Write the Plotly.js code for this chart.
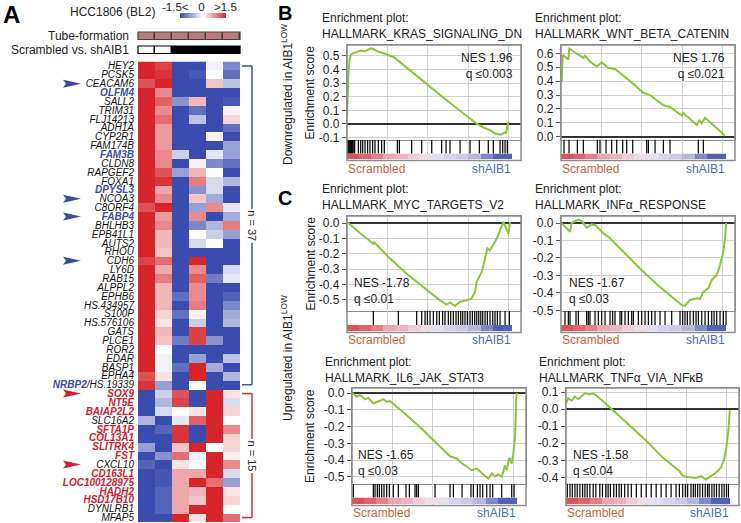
<!DOCTYPE html>
<html><head><meta charset="utf-8">
<script src="https://cdn.plot.ly/plotly-3.0.1.min.js"></script>
<style>html,body{margin:0;padding:0;background:#fff}#chart{width:741px;height:523px}</style>
</head><body><div id="chart"></div>
<script>
// ---------------- DATA ----------------
const samples = ['S1','S2','S3','S4','S5','S6'];
const tubeFormation = [1,1,1,1,1,1];
const condition = [0,0,1,1,1,1]; // 0 = Scrambled, 1 = shAIB1

const genesDown = ['HEY2','PCSK5','CEACAM6','OLFM4','SALL2','TRIM31','FLJ14213','ADH1A','CYP2R1','FAM174B','FAM3B','CLDN8','RAPGEF2','FOXA1','DPYSL3','NCOA3','C8ORF4','FABP4','BHLHB3','EPB41L1','AUTS2','RHOU','CDH6','LY6D','RAB15','ALPPL2','EPHB6','HS.434957','S100P','HS.576106','GATS','PLCE1','ROR2','EDAR','BASP1','EPHA4','NRBP2/HS.19339'];
const genesUp = ['SOX9','NT5E','BAIAP2L2','SLC16A2','SFTA1P','COL13A1','SLITRK4','FST','CXCL10','CD163L1','LOC100128975','HADH2','HSD17B10','DYNLRB1','MFAP5'];
const blueGenes = ['OLFM4','FAM3B','DPYSL3','FABP4','NRBP2'];
const redGenes = ['SOX9','NT5E','BAIAP2L2','SFTA1P','COL13A1','SLITRK4','FST','CD163L1','LOC100128975','HADH2','HSD17B10'];
const arrowBlue = ['CEACAM6','NCOA3','FABP4','CDH6'];
const arrowRed = ['SOX9','CXCL10'];

const exprDown = [
[1.5,1.3,-1.5,-1.5,-0.1,-1.0],[1.5,1.4,-1.5,-1.4,0.0,-1.2],[1.2,1.5,-1.5,-1.5,0.4,-0.5],[1.5,0.8,-1.5,-1.5,-1.5,-1.5],
[1.5,1.1,-0.9,0.5,-1.5,-1.4],[1.5,0.8,-1.5,-1.2,-1.5,0.1],[1.5,1.0,-1.5,-0.5,-1.5,0.3],[1.5,0.7,-1.5,-1.5,-1.5,-1.2],
[1.5,0.7,-1.5,-1.5,0.1,-1.5],[1.5,0.7,-1.5,-1.5,-1.5,-0.8],[1.5,0.8,-0.4,-1.5,-0.2,-0.8],[1.5,0.8,-1.5,0.1,-1.0,-1.2],
[1.5,1.2,-0.8,0.5,0.0,-1.5],[1.5,1.4,-1.5,0.9,-0.3,-0.6],[1.5,0.6,-1.5,-0.9,-0.3,-1.5],[1.5,0.8,-1.5,0.4,-0.7,-1.5],
[1.2,1.5,-1.5,-0.8,0.8,-0.2],[1.5,0.7,-1.5,0.8,-1.5,-0.7],[1.5,0.8,-1.5,-1.0,-0.6,0.9],[1.5,0.5,-1.5,0.0,-0.4,-0.8],
[1.5,0.5,-1.5,-0.3,0.0,-1.5],[1.5,0.4,-1.5,-1.5,-1.5,-1.5],[1.3,1.0,-1.5,1.5,-1.5,-1.5],[1.5,0.6,-1.5,0.8,-1.5,-0.3],
[1.5,0.9,-1.5,1.1,-1.1,-0.2],[1.5,0.5,-1.5,0.8,-1.5,-1.5],[1.5,0.5,-1.2,0.8,-1.5,-1.3],[1.5,0.5,-1.5,0.9,-1.5,-1.0],
[1.5,0.3,-1.2,0.1,-1.5,-0.7],[1.5,0.2,-1.5,-0.4,-1.5,-0.6],[1.5,0.5,-1.5,1.3,-1.5,-1.5],[1.5,0.4,-1.1,1.3,-0.9,-1.5],
[1.5,0.0,-1.5,-1.5,-1.5,-1.5],[1.5,-0.1,-1.5,-0.8,-1.5,-0.5],[1.5,-0.1,-1.2,1.5,-0.7,-1.5],[1.2,0.2,-1.5,1.5,-1.5,-0.6],
[1.4,-0.8,-1.5,0.0,-1.5,-1.5]
];
const exprUp = [
[-1.5,-0.4,1.2,-1.5,1.5,0.2],[-1.5,-0.6,1.3,-1.5,1.5,-0.3],[-1.5,-0.3,0.0,0.2,1.5,0.3],[-0.6,-1.5,-0.2,1.1,1.5,0.0],
[-1.5,-1.3,1.4,-1.5,1.5,0.8],[-1.5,-1.5,1.4,-1.5,1.5,0.3],[-0.8,-1.5,0.4,1.5,0.0,0.3],[-1.5,-0.9,1.0,-0.1,1.5,0.1],
[-1.3,-1.5,0.2,0.0,1.5,0.8],[-1.5,-1.4,0.6,0.6,1.5,-0.3],[-1.5,-1.4,0.6,1.5,1.0,-0.8],[-1.5,-1.3,0.6,0.5,1.5,0.2],
[-1.5,-1.3,0.6,0.4,1.5,0.3],[-1.5,-1.3,0.6,1.5,1.5,0.0],[-1.5,-1.5,1.5,0.2,1.5,1.0]
];

// ranked-list colour strip (shared ranked list)
const stripEdges = [0,1500,3000,4500,6000,7500,9000,10500,12000,13500,15000,16500,18000,20400];
const stripMetric = [2.7,2.3,1.6,0.9,0.7,0.35,0.15,-0.15,-0.3,-0.45,-0.7,-1.5,-2.5];

// enrichment curves (rank, running ES) and hit ranks
const krasRank = [0,60,160,300,500,800,1200,1700,2200,2700,3000,3400,3900,4500,5200,5800,9000,12500,16070,17000,17675,18290,18910,19160,19530,19650,19900,20020];
const krasES   = [0.05,0.20,0.35,0.47,0.51,0.52,0.53,0.54,0.535,0.55,0.555,0.545,0.53,0.52,0.505,0.49,0.335,0.165,0.0,-0.03,-0.045,-0.07,-0.08,-0.075,-0.06,-0.07,0.01,0.015];
const krasHits = [50,150,250,350,450,550,700,850,950,1400,1690,1940,2230,2550,2840,3170,3460,3870,4280,4610,6220,6470,7990,9230,10470,11700,12240,12730,13970,15200,16350,17460,18080,18910,19240,19530,19810];

const wntRank = [0,87,210,618,902,1026,1940,2756,2966,3584,4413,4820,5030,5846,6267,6674,8528,10172,11000,11829,12644,13472,14919,15116,16773,17094,17391,17799,18824,20270];
const wntES   = [0.40,0.40,0.59,0.567,0.555,0.633,0.60,0.567,0.584,0.54,0.506,0.523,0.535,0.494,0.489,0.487,0.40,0.316,0.30,0.263,0.226,0.214,0.153,0.17,0.085,0.117,0.097,0.136,0.08,0.007];
const wntHits = [371,989,2019,2760,4490,4820,5562,6267,6885,7627,8120,8862,10593,10800,11620,12650,13470,16970,17590];

const mycRank = [0,160,1500,3250,3350,5315,7380,9430,11495,12320,12730,13350,13970,14790,15410,15820,16030,16650,17060,17340,17680,18290,18700,19120,19320,19940,20150];
const mycES   = [0.0,0.0,-0.06,-0.135,-0.125,-0.23,-0.33,-0.416,-0.503,-0.53,-0.517,-0.54,-0.512,-0.503,-0.49,-0.447,-0.38,-0.318,-0.23,-0.165,-0.176,-0.122,-0.076,-0.011,0.01,-0.07,0.01];
const mycHits = [3254,6345,8610,9230,9640,9930,10260,10670,11090,11410,11820,12110,12520,12810,13140,13470,13760,14050,14300,14580,14870,15200,15490,15780,16030,16280,16530,16770,17060,17340,17670,18010,18290,18580,18910,19530,20060];

const infRank = [0,87,494,1112,1323,1730,2138,2559,3177,3795,4202,5228,5846,7700,9764,11829,13880,14918,15326,15944,16772,17180,17588,18207,18627,19245,19652,20060,20270,20394];
const infES   = [0,-0.002,-0.02,-0.05,0.0,0.011,0.02,0.011,-0.027,-0.008,-0.011,-0.059,-0.078,-0.164,-0.26,-0.35,-0.43,-0.469,-0.472,-0.44,-0.43,-0.434,-0.392,-0.373,-0.326,-0.297,-0.24,-0.164,-0.087,0.0];
const infHits = [494,906,1112,1854,2142,3172,3378,3584,4202,4614,5026,5438,6056,6386,6674,7292,7498,7910,8322,8734,8940,9558,9970,10382,10794,11206,11618,12236,12854,13678,14708,15038,15326,15614,15944,16356,16686,16974,17386,17798,18210,18622,18910,19240,19652,20064,20394];

const il6Rank = [0,87,581,989,1607,2015,2633,3053,3461,3869,4289,4697,6761,8813,10877,12113,12941,13349,14795,15413,16229,16847,17267,17675,18083,18503,18911,19121,19442,19739,19937,20147,20270,20357];
const il6ES   = [0,-0.002,-0.022,-0.012,-0.038,-0.028,-0.062,-0.052,-0.046,-0.038,-0.052,-0.048,-0.132,-0.222,-0.32,-0.377,-0.39,-0.41,-0.46,-0.45,-0.485,-0.51,-0.48,-0.497,-0.485,-0.50,-0.43,-0.46,-0.385,-0.42,-0.36,-0.26,-0.06,0.0];
const il6Hits = [165,2636,2843,3131,3378,3667,3955,4284,4614,5108,5727,6674,7086,7787,7993,8199,10259,12113,12525,13600,14700,14997,15491,15821,16151,16645,17057,17387,18499,19735,20023];

const tnfRank = [0,284,705,1112,1520,1941,2348,2966,3374,4202,5846,7910,9974,12026,14083,14499,15326,16154,16773,17391,18009,18627,19245,19652,19937,20184,20357];
const tnfES   = [0.034,0.064,0.05,0.073,0.058,0.077,0.093,0.088,0.093,0.064,-0.006,-0.095,-0.185,-0.284,-0.363,-0.39,-0.40,-0.403,-0.393,-0.413,-0.393,-0.373,-0.343,-0.293,-0.224,-0.125,-0.006];
const tnfHits = [165,494,783,1112,1400,1730,2060,2348,2637,2966,3378,3708,4202,4532,4944,5232,5521,5933,6262,6592,6880,7292,7704,8116,8734,9352,9970,10588,11206,11824,12442,13060,13678,14090,14502,14832,15120,15532,15821,16068,16356,16645,16974,17304,17592,17798,18128,18416,18704,19034,19364,19652,19941,20188];

const panelNames = ['HALLMARK_KRAS_SIGNALING_DN','HALLMARK_WNT_BETA_CATENIN','HALLMARK_MYC_TARGETS_V2','HALLMARK_INFα_RESPONSE','HALLMARK_IL6_JAK_STAT3','HALLMARK_TNFα_VIA_NFκB'];
const nesLabels = ['NES 1.96','NES 1.76','NES -1.78','NES -1.67','NES -1.65','NES -1.58'];
const qLabels = ['q ≤0.003','q ≤0.021','q ≤0.01','q ≤0.03','q ≤0.03','q ≤0.04'];

// ---------------- STYLE / LAYOUT ----------------
const W = 741, H = 523;
const px = v => v / W;
const py = v => 1 - v / H;
const FONT = 'Liberation Sans, Arial, Helvetica, sans-serif';
const BLUE_T = '#3a4aa8', RED_T = '#d42030';
const GREEN = '#8cc43f';
const heatScale = [[0,'#3a4cae'],[0.5,'#ffffff'],[1,'#d6262b']];
const stripScale = [[0,'#3d4ea8'],[0.3,'#8e93d0'],[0.42,'#c9c6e8'],[0.5,'#efe9f3'],[0.58,'#f0c2d0'],[0.7,'#e7909e'],[1,'#d8464d']];

const panels = [
  {rank:krasRank, es:krasES, hits:krasHits, yr:[-0.118,0.58]},
  {rank:wntRank, es:wntES, hits:wntHits, yr:[-0.02,0.66]},
  {rank:mycRank, es:mycES, hits:mycHits, yr:[-0.572,0.046]},
  {rank:infRank, es:infES, hits:infHits, yr:[-0.503,0.04]},
  {rank:il6Rank, es:il6ES, hits:il6Hits, yr:[-0.542,0.03]},
  {rank:tnfRank, es:tnfES, hits:tnfHits, yr:[-0.436,0.124]}
];
// tm = centre of the 2-line title block, nm = centre of the NES/q block
const geom = [
  {l:347,r:521,top:45,mainBot:140,stripTop:153.5,stripBot:159,boxBot:160.5,tx:321,tm:26,nx:514,nm:66,na:'right',lab:169,ylab:true},
  {l:561,r:735,top:45,mainBot:139.5,stripTop:153.5,stripBot:159,boxBot:160.5,tx:534,tm:26,nx:726,nm:66,na:'right',lab:169,ylab:false},
  {l:347,r:521,top:216,mainBot:311,stripTop:325,stripBot:331,boxBot:332.5,tx:321,tm:196.5,nx:353,nm:291,na:'left',lab:340,ylab:true},
  {l:561,r:735,top:216,mainBot:311,stripTop:325,stripBot:331,boxBot:332.5,tx:534,tm:196.5,nx:568,nm:291,na:'left',lab:340,ylab:false},
  {l:352,r:526,top:388,mainBot:484,stripTop:497.5,stripBot:504,boxBot:505.5,tx:324,tm:369.5,nx:357,nm:462.5,na:'left',lab:513,ylab:true},
  {l:566,r:739,top:388,mainBot:483.5,stripTop:497.5,stripBot:504,boxBot:505.5,tx:538,tm:369.5,nx:572,nm:462.5,na:'left',lab:513,ylab:false}
];

const traces = [];
const annotations = [];
const shapes = [];
const layout = {
  width:W, height:H, margin:{l:0,r:0,t:0,b:0,pad:0},
  paper_bgcolor:'#ffffff', plot_bgcolor:'rgba(0,0,0,0)', showlegend:false,
  font:{family:FONT, size:12, color:'#222'}
};
function txt(text, x, y, opts) {
  annotations.push(Object.assign({text, x:px(x), y:py(y), xref:'paper', yref:'paper', showarrow:false,
    xanchor:'left', yanchor:'middle', borderpad:0, font:{family:FONT, size:12, color:'#222'}}, opts||{}));
}

// ---------- Panel A: heatmap ----------
const genes = genesDown.concat(genesUp);
const expr = exprDown.concat(exprUp);
function fmtGene(g) {
  if (g.indexOf('/') >= 0) {
    const parts = g.split('/');
    return '<span style="color:'+BLUE_T+'"><b><i>'+parts[0]+'</i></b></span><i>/'+parts[1]+'</i>';
  }
  if (blueGenes.indexOf(g) >= 0) return '<span style="color:'+BLUE_T+'"><b><i>'+g+'</i></b></span>';
  if (redGenes.indexOf(g) >= 0) return '<span style="color:'+RED_T+'"><b><i>'+g+'</i></b></span>';
  return '<i>'+g+'</i>';
}
traces.push({type:'heatmap', x:samples, y:genes, z:expr, xaxis:'x', yaxis:'y', zmin:-1.5, zmax:1.5,
  colorscale:heatScale, hoverinfo:'skip', showscale:true,
  colorbar:{orientation:'h', x:px(203), xanchor:'center', y:py(17.5), yanchor:'bottom', len:46, lenmode:'pixels',
    thickness:5, thicknessmode:'pixels', outlinewidth:0, showticklabels:false, ticks:'', xpad:0, ypad:0}});
traces.push({type:'heatmap', x:samples, y:['Tube-formation'], z:[tubeFormation], xaxis:'x', yaxis:'y2',
  colorscale:[[0,'#b97b7b'],[1,'#b97b7b']], showscale:false, xgap:1.5, hoverinfo:'skip'});
traces.push({type:'heatmap', x:samples, y:['Scrambled vs. shAIB1'], z:[condition], xaxis:'x', yaxis:'y3',
  colorscale:[[0,'#ffffff'],[1,'#000000']], zmin:0, zmax:1, showscale:false, xgap:1.5, hoverinfo:'skip'});

layout.xaxis = {domain:[px(138),px(240)], anchor:'y', showticklabels:false, showgrid:false, zeroline:false, ticks:''};
layout.yaxis = {domain:[py(522),py(61.5)], anchor:'x', type:'category', categoryorder:'array', categoryarray:genes,
  autorange:'reversed', tickvals:genes, ticktext:genes.map(fmtGene), tickfont:{family:FONT, size:10, color:'#111'},
  ticks:'', ticklabelstandoff:3, showgrid:false, zeroline:false};
layout.yaxis2 = {domain:[py(39.5),py(32)], anchor:'x', type:'category', tickfont:{family:FONT, size:12, color:'#222'},
  ticks:'', ticklabelstandoff:8, showgrid:false, zeroline:false};
layout.yaxis3 = {domain:[py(53.5),py(46)], anchor:'x', type:'category', tickfont:{family:FONT, size:12, color:'#222'},
  ticks:'', ticklabelstandoff:8, showgrid:false, zeroline:false};

// bar backgrounds / borders
shapes.push({type:'rect', xref:'paper', yref:'paper', x0:px(138), x1:px(240), y0:py(39.5), y1:py(32), fillcolor:'#4e3d3d', line:{width:0}, layer:'below'});
shapes.push({type:'rect', xref:'paper', yref:'paper', x0:px(138), x1:px(240), y0:py(39.5), y1:py(32), line:{color:'#4e3d3d', width:1.2}});
shapes.push({type:'rect', xref:'paper', yref:'paper', x0:px(138), x1:px(240), y0:py(53.5), y1:py(46), fillcolor:'#000', line:{width:0}, layer:'below'});
shapes.push({type:'rect', xref:'paper', yref:'paper', x0:px(138), x1:px(240), y0:py(53.5), y1:py(46), line:{color:'#000', width:1.2}});

// arrows
arrowBlue.concat(arrowRed).forEach(g => {
  const col = arrowRed.indexOf(g) >= 0 ? RED_T : BLUE_T;
  shapes.push({type:'path', xref:'paper', yref:'y', xsizemode:'pixel', ysizemode:'pixel', xanchor:px(72), yanchor:genes.indexOf(g),
    path:'M-9,-4 L9,0 L-9,4 L-6,0 Z', fillcolor:col, line:{width:0}});
});

// brackets
function bracket(i0, i1, col, label) {
  const xa = px(242), xb = px(252);
  shapes.push({type:'line', xref:'paper', yref:'y', x0:xa, x1:xb, y0:i0, y1:i0, line:{color:col, width:1.5}});
  shapes.push({type:'line', xref:'paper', yref:'y', x0:xb, x1:xb, y0:i0, y1:i1, line:{color:col, width:1.5}});
  shapes.push({type:'line', xref:'paper', yref:'y', x0:xa, x1:xb, y0:i1, y1:i1, line:{color:col, width:1.5}});
  annotations.push({text:label, xref:'paper', yref:'y', x:xb, y:(i0+i1)/2, showarrow:false, textangle:90,
    xanchor:'center', yanchor:'middle', bgcolor:'#ffffff', borderpad:1, font:{family:FONT, size:11, color:'#222'}});
}
bracket(0, genesDown.length-1, '#3b52a8', 'n = ' + genesDown.length);
bracket(genesDown.length, genes.length-1, '#d42a35', 'n = ' + genesUp.length);

// panel A texts
txt('<b>A</b>', 2, 15, {font:{family:FONT, size:24, color:'#000'}});
txt('HCC1806 (BL2)', 112, 11.5, {xanchor:'center'});
txt('-1.5<   0   >1.5', 199, 6.5, {xanchor:'center', font:{family:FONT, size:11.5, color:'#222'}});

// ---------- Panels B & C: enrichment plots ----------
txt('<b>B</b>', 285, 13.5, {xanchor:'center', font:{family:FONT, size:20, color:'#000'}});
txt('<b>C</b>', 285, 198, {xanchor:'center', font:{family:FONT, size:20, color:'#000'}});
txt('Downregulated in AIB1<sup>LOW</sup>', 287, 95, {xanchor:'center', textangle:-90});
txt('Upregulated in AIB1<sup>LOW</sup>', 287, 358, {xanchor:'center', textangle:-90});

panels.forEach((p, k) => {
  const g = geom[k];
  const xi = k + 2, ym = 4 + 3*k, yh = ym + 1, ys = ym + 2;
  const xn = 'x'+xi, ymn = 'y'+ym, yhn = 'y'+yh, ysn = 'y'+ys;
  const tv = [];
  for (let i = Math.ceil(p.yr[0]*10 - 1e-9); i <= Math.floor(p.yr[1]*10 + 1e-9); i++) tv.push(i/10 + 0);
  layout['xaxis'+xi] = {domain:[px(g.l), px(g.r)], anchor:ymn, range:[0,21500], tickvals:[5000,10000,15000,20000],
    showticklabels:false, ticks:'', showgrid:true, gridcolor:'#d2d2d2', gridwidth:1, zeroline:false,
    showline:true, linecolor:'#8c8c8c', linewidth:1.2, mirror:true};
  layout['yaxis'+ym] = {domain:[py(g.mainBot), py(g.top)], anchor:xn, range:p.yr, tickvals:tv,
    ticktext:tv.map(v => v.toFixed(1)), ticks:'outside', ticklen:4, tickcolor:'#555', tickwidth:1,
    tickfont:{family:FONT, size:12, color:'#222'}, showgrid:true, gridcolor:'#d2d2d2', gridwidth:1,
    zeroline:true, zerolinecolor:'#333', zerolinewidth:2, showline:true, linecolor:'#8c8c8c', linewidth:1.2, mirror:true};
  const hitsH = g.stripTop - g.mainBot;
  layout['yaxis'+yh] = {domain:[py(g.boxBot), py(g.mainBot)], anchor:xn, range:[-(g.boxBot-g.stripTop)/hitsH, 1], visible:false};
  layout['yaxis'+ys] = {domain:[py(g.stripBot), py(g.stripTop)], anchor:xn, visible:false};

  traces.push({type:'scatter', mode:'lines', x:p.rank, y:p.es, xaxis:xn, yaxis:ymn,
    line:{color:GREEN, width:2}, hoverinfo:'skip'});
  traces.push({type:'scatter', mode:'lines', x:p.hits.flatMap(h => [h,h,null]), y:p.hits.flatMap(() => [0,1,null]),
    xaxis:xn, yaxis:yhn, line:{color:'#000', width:1.2}, hoverinfo:'skip'});
  traces.push({type:'heatmap', x:stripEdges, y:[0], z:[stripMetric], xaxis:xn, yaxis:ysn, zmin:-3, zmax:3,
    colorscale:stripScale, showscale:false, hoverinfo:'skip'});

  shapes.push({type:'rect', xref:'paper', yref:'paper', x0:px(g.l), x1:px(g.r), y0:py(g.boxBot), y1:py(g.top),
    line:{color:'#8c8c8c', width:1.5}});

  txt('Enrichment plot:<br>' + panelNames[k], g.tx, g.tm, {align:'left'});
  txt(nesLabels[k] + '<br>' + qLabels[k], g.nx, g.nm, {xanchor:g.na, align:g.na});
  txt('Scrambled', g.l, g.lab, {font:{family:FONT, size:12, color:'#c8643c'}});
  txt('shAIB1', g.r - 9, g.lab, {xanchor:'right', font:{family:FONT, size:12, color:'#4a6fb8'}});
  if (g.ylab) txt('Enrichment score', 310, (g.top + g.mainBot)/2, {xanchor:'center', textangle:-90});
});

layout.annotations = annotations;
layout.shapes = shapes;
Plotly.newPlot('chart', traces, layout, {staticPlot:true, displayModeBar:false});
</script></body></html>
